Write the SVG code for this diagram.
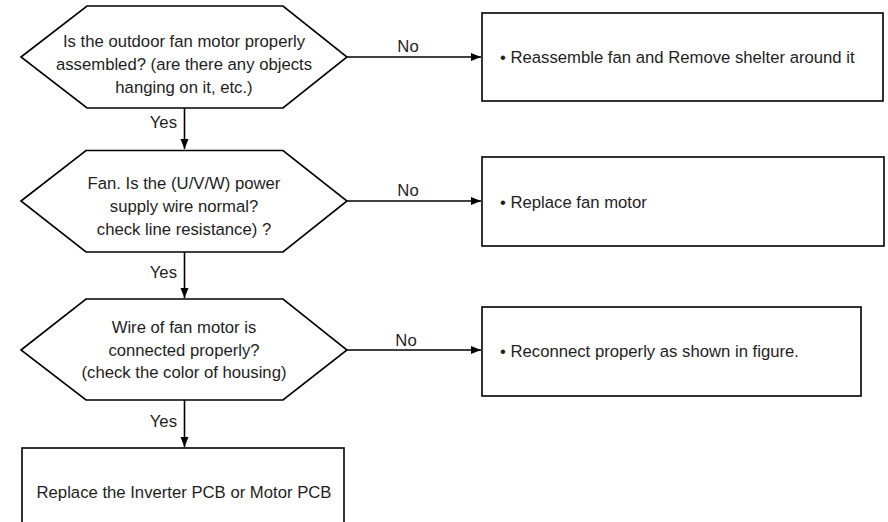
<svg xmlns="http://www.w3.org/2000/svg" width="888" height="522" viewBox="0 0 888 522">
<defs>
<style>
.shape{fill:#fff;stroke:#000;stroke-width:1.6}
.line{fill:none;stroke:#000;stroke-width:1.6}
text{font-family:"Liberation Sans",Arial,sans-serif;font-size:16.7px;fill:#1e1e1e}
.c{text-anchor:middle}
.e{text-anchor:end}
</style>
<marker id="arr" viewBox="0 0 10 10" refX="10" refY="5" markerWidth="10" markerHeight="10" markerUnits="userSpaceOnUse" orient="auto">
<path d="M0,1 L10,5 L0,9 Z" fill="#000"/>
</marker>
</defs>
<rect width="888" height="522" fill="#fff"/>
<g id="connectors">
<line class="line" x1="347" y1="57" x2="481" y2="57" marker-end="url(#arr)"/>
<line class="line" x1="347" y1="201" x2="481" y2="201" marker-end="url(#arr)"/>
<line class="line" x1="347" y1="350" x2="481" y2="350" marker-end="url(#arr)"/>
<line class="line" x1="184.5" y1="108" x2="184.5" y2="149" marker-end="url(#arr)"/>
<line class="line" x1="184.5" y1="252" x2="184.5" y2="298" marker-end="url(#arr)"/>
<line class="line" x1="184.5" y1="400" x2="184.5" y2="447" marker-end="url(#arr)"/>
<text class="c" x="408" y="52">No</text>
<text class="c" x="408" y="196">No</text>
<text class="c" x="406" y="346">No</text>
<text class="e" x="177" y="128">Yes</text>
<text class="e" x="177" y="278">Yes</text>
<text class="e" x="177" y="427">Yes</text>
</g>
<g id="q1">
<polygon class="shape" points="21,57 87,6 283,6 347,57 283,108 87,108"/>
<text class="c" x="184" y="47">Is the outdoor fan motor properly</text>
<text class="c" x="184" y="70">assembled? (are there any objects</text>
<text class="c" x="184" y="93">hanging on it, etc.)</text>
</g>
<g id="a1">
<rect class="shape" x="482" y="13" width="401" height="88"/>
<text x="500" y="63">• Reassemble fan and Remove shelter around it</text>
</g>
<g id="q2">
<polygon class="shape" points="21,201 86,150.5 283,150.5 347,201 283,252 86,252"/>
<text class="c" x="184" y="189">Fan. Is the (U/V/W) power</text>
<text class="c" x="184" y="212">supply wire normal?</text>
<text class="c" x="184" y="235">check line resistance) ?</text>
</g>
<g id="a2">
<rect class="shape" x="482" y="157" width="402" height="89"/>
<text x="500" y="208">• Replace fan motor</text>
</g>
<g id="q3">
<polygon class="shape" points="21,350 86,299 283,299 347,350 283,400 86,400"/>
<text class="c" x="184" y="333">Wire of fan motor is</text>
<text class="c" x="184" y="356">connected properly?</text>
<text class="c" x="184" y="378">(check the color of housing)</text>
</g>
<g id="a3">
<rect class="shape" x="482" y="307" width="379" height="89"/>
<text x="500" y="357">• Reconnect properly as shown in figure.</text>
</g>
<g id="end">
<rect class="shape" x="22" y="448" width="322" height="90"/>
<text class="c" x="184" y="498">Replace the Inverter PCB or Motor PCB</text>
</g>
</svg>
